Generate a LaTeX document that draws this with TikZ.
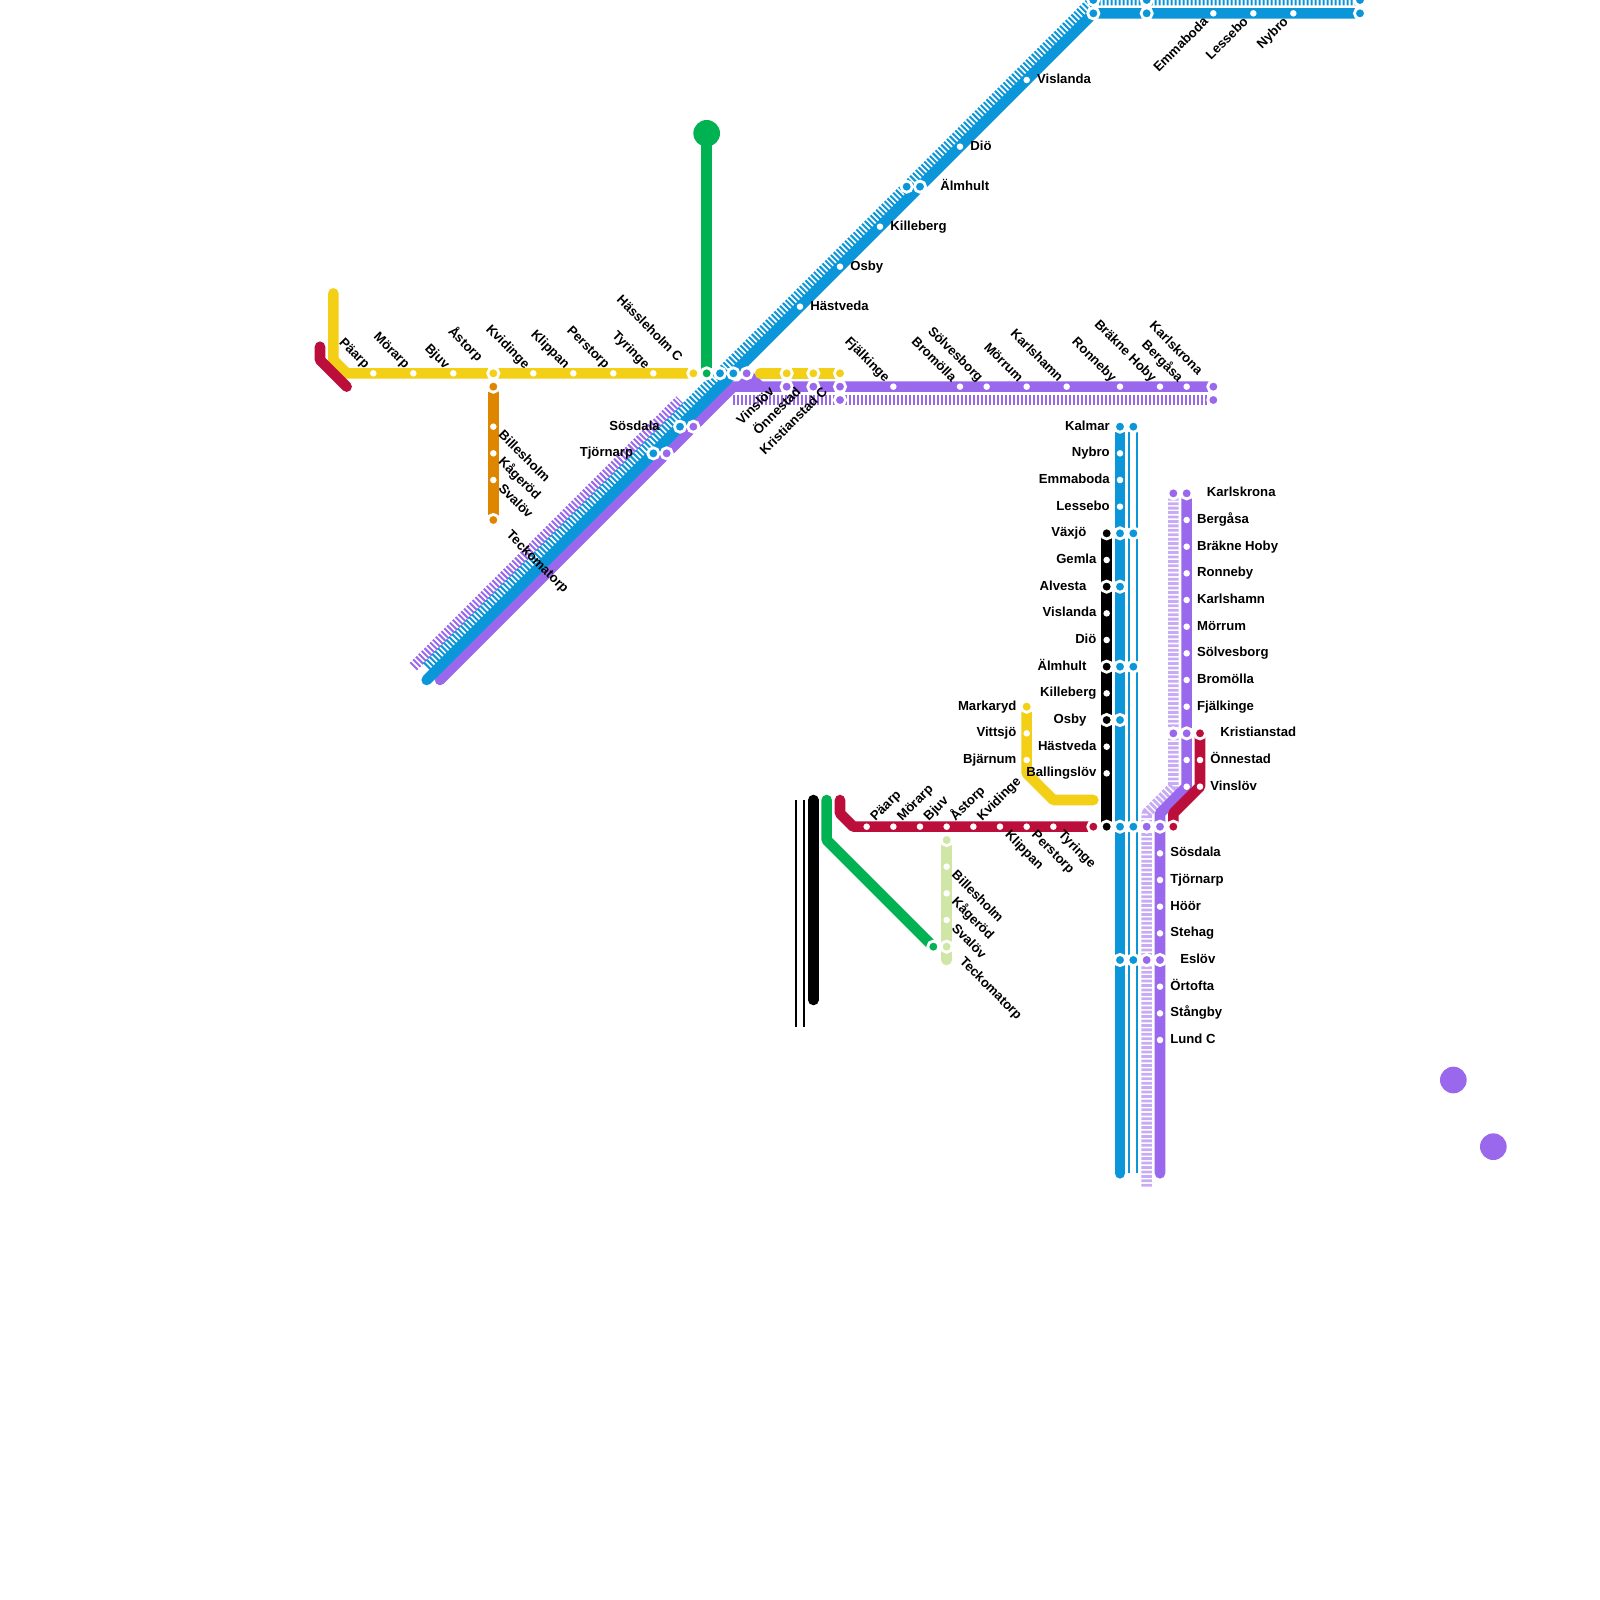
\documentclass[tikz,border=0pt]{standalone}
\usepackage{fontspec}
\setmainfont{Liberation Sans}
\usetikzlibrary{backgrounds}
\definecolor{cyel}{HTML}{F3CF16}
\definecolor{cred}{HTML}{BC0E3A}
\definecolor{cgrn}{HTML}{00B251}
\definecolor{cblu}{HTML}{0A96D9}
\definecolor{cpur}{HTML}{9A68EC}
\definecolor{cora}{HTML}{DF8600}
\definecolor{cpal}{HTML}{CFE6A7}
\tikzset{
  x=10pt,y=-10pt,
  metro/.style={line width=7.9pt,line cap=round,line join=round,draw=#1},
  hatch/.style={line width=7.9pt,line cap=butt,line join=round,draw=#1,dash pattern=on 1.5pt off 1.5pt},
  hatchpale/.style={line width=7.9pt,line cap=butt,line join=round,draw=#1,dash pattern=on 2.1pt off 1.23pt},
  twin/.style={line width=7.5pt,line cap=butt,draw=#1},
  twinin/.style={line width=4.5pt,line cap=butt,draw=white},
  plainst/.style={circle,fill=white,inner sep=0pt,minimum size=4.9pt},
  ringst/.style={circle,draw=white,line width=2.1pt,fill=#1,inner sep=0pt,minimum size=8.4pt},
  blob/.style={circle,fill=#1,inner sep=0pt,minimum size=20pt},
  lbl/.style={inner sep=0pt,text height=7pt,text depth=2pt,font=\fontsize{9.85}{10}\selectfont\bfseries},
}
\begin{document}
\begin{tikzpicture}
\useasboundingbox (0,0) rectangle (120,120);
% terminal blobs
\node[blob=cgrn] (gtop) at (53,10) {};
\node[blob=cpur] (pa) at (109,81) {};
\node[blob=cpur] (pb) at (112,86) {};
% bends and free ends
\foreach \n/\x/\y in {
 ya/25/22,yb/25/27,yc/26/28,ra/24/26,rb/24/27,rc/26/29,oe/37/39,
 bd/32/51,be/82/1,sa/32/50,sb/82/0,ppa/33/51,ppb/55/29,ppc/57/29,
 hpa/31/50,hpb/51/30,hha/55/30,
 ba/61/60,bb/61/75,tb1/60/60,tb2/60/77,
 ga/62/60,gb/62/63,
 rda/63/60,rdb/63/61,rdc/64/62,
 pgb/71/72,
 yya/77/58,yyb/79/60,yyc/82/60,
 yza/57/28,
 blb/84/88,tb3/85/88,
 hva/86/89,hvb/86/61,hvc/88/59,
 pua/87/88,pub/87/61,puc/89/59,
 rea/90/59,reb/88/61}
 {\coordinate (\n) at (\x,\y);}
% plain stations (white dots)
\foreach \x/\y in {
 28/28,31/28,34/28,40/28,43/28,46/28,49/28,
 37/32,37/34,37/36,
 77/6,72/11,66/17,63/20,60/23,
 91/1,94/1,97/1,
 67/29,72/29,74/29,77/29,80/29,84/29,87/29,89/29,
 84/34,84/36,84/38,
 83/42,83/46,83/48,83/52,83/56,83/58,
 77/55,77/57,
 65/62,67/62,69/62,71/62,73/62,75/62,77/62,79/62,
 71/65,71/67,71/69,
 89/39,89/41,89/43,89/45,89/47,89/49,89/51,89/53,89/57,89/59,
 90/57,90/59,
 87/64,87/66,87/68,87/70,87/74,87/76,87/78}
 {\node[plainst] (s\x-\y) at (\x,\y) {};}
% ring stations by colour
\foreach \x/\y in {37/28,52/28,59/28,61/28,63/28,77/53}
 {\node[ringst=cyel] (s\x-\y) at (\x,\y) {};}
\foreach \x/\y in {37/29,37/39}
 {\node[ringst=cora] (s\x-\y) at (\x,\y) {};}
\foreach \x/\y in {53/28,70/71}
 {\node[ringst=cgrn] (s\x-\y) at (\x,\y) {};}
\foreach \x/\y in {54/28,55/28,51/32,49/34,68/14,69/14,82/1,86/1,102/1,82/0,86/0,102/0,
 84/32,85/32,84/40,85/40,84/44,84/50,85/50,84/54,84/62,85/62,84/72,85/72}
 {\node[ringst=cblu] (s\x-\y) at (\x,\y) {};}
\foreach \x/\y in {56/28,52/32,50/34,59/29,61/29,63/29,91/29,63/30,91/30,
 88/37,89/37,88/55,89/55,86/62,87/62,86/72,87/72}
 {\node[ringst=cpur] (s\x-\y) at (\x,\y) {};}
\foreach \x/\y in {82/62,90/55,88/62}
 {\node[ringst=cred] (s\x-\y) at (\x,\y) {};}
\foreach \x/\y in {83/40,83/44,83/50,83/54,83/62}
 {\node[ringst=black] (s\x-\y) at (\x,\y) {};}
\foreach \x/\y in {71/63,71/71}
 {\node[ringst=cpal] (s\x-\y) at (\x,\y) {};}
% lines
\begin{scope}[on background layer]
 \draw[metro=cyel] (ya) -- (yb) -- (yc) -- (s52-28.center);
 \draw[metro=cred] (ra) -- (rb) -- (rc);
 \draw[metro=cora] (s37-29.center) -- (oe);
 \draw[metro=cgrn] (gtop.center) -- (s53-28.center);
 \draw[hatch=cpur] (hpa) -- (hpb);
 \draw[hatch=cblu] (sa) -- (sb) -- (s102-0.center);
 \draw[metro=cpur] (ppa) -- (ppb) -- (ppc) -- (s91-29.center);
 \fill[cpur] (s56-28.center) -- (ppc) -- (ppb) -- cycle;
 \draw[line width=7.9pt,line cap=butt,draw=cpur] (s56-28.center) -- (ppc);
 \draw[metro=cblu] (bd) -- (be) -- (s102-1.center);
 \draw[hatch=cpur] (hha) -- (s91-30.center);
 \draw[metro=cyel] (yza) -- (s63-28.center);
 \draw[metro=black] (ba) -- (bb);
 \draw[twin=black] (tb1) -- (tb2);
 \draw[twinin] (tb1) -- (tb2);
 \draw[metro=cgrn] (ga) -- (gb) -- (s70-71.center);
 \draw[metro=cred] (rda) -- (rdb) -- (rdc) -- (s82-62.center);
 \draw[metro=cpal] (s71-63.center) -- (pgb);
 \draw[metro=cyel] (s77-53.center) -- (yya) -- (yyb) -- (yyc);
 \draw[metro=black] (s83-40.center) -- (s83-62.center);
 \draw[metro=cblu] (s84-32.center) -- (blb);
 \draw[twin=cblu] (s85-32.center) -- (tb3);
 \draw[twinin] (s85-32.center) -- (tb3);
 \draw[hatchpale=cpur!55!white] (hva) -- (hvb) -- (hvc) -- (s88-37.center);
 \draw[metro=cpur] (pua) -- (pub) -- (puc) -- (s89-37.center);
 \draw[metro=cred] (s90-55.center) -- (rea) -- (reb) -- (s88-62.center);
\end{scope}
% labels: rotated -45, ending at the station
\foreach \x/\y/\t in {28/28/Päarp,31/28/Mörarp,34/28/Bjuv,40/28/Kvidinge,43/28/Klippan,46/28/Perstorp,49/28/Tyringe,
 67/29/Fjälkinge,72/29/Bromölla,74/29/Sölvesborg,77/29/Mörrum,80/29/Karlshamn,84/29/Ronneby,87/29/Bräkne Hoby,89/29/Bergåsa}
 {\node[lbl,rotate=-45,anchor=east] (ua\x-\y) at ([xshift=-4.7pt,yshift=4.7pt]\x,\y) {\t};}
\node[lbl,rotate=-45,anchor=east] (ub1) at ([xshift=-10pt,yshift=10pt]37,28) {Åstorp};
\node[lbl,rotate=-45,anchor=east] (ub2) at ([xshift=-10pt,yshift=10pt]91,29) {Karlskrona};
\node[lbl,rotate=-45,anchor=east] (ub3) at ([xshift=-10pt,yshift=10pt]52,28) {Hässleholm C};
% rotated -45, starting at the station
\foreach \x/\y/\t in {37/32/Billesholm,37/34/Kågeröd,37/36/Svalöv,75/62/Klippan,77/62/Perstorp,79/62/Tyringe,71/65/Billesholm,71/67/Kågeröd,71/69/Svalöv}
 {\node[lbl,rotate=-45,anchor=west] (uc\x-\y) at ([xshift=5pt,yshift=-5pt]\x,\y) {\t};}
\node[lbl,rotate=-45,anchor=west] (ud1) at ([xshift=11pt,yshift=-10pt]37,39) {Teckomatorp};
\node[lbl,rotate=-45,anchor=west] (ud2) at ([xshift=11pt,yshift=-10pt]71,71) {Teckomatorp};
% rotated +45, ending at the station
\foreach \x/\y/\t in {59/29/Vinslöv,61/29/Önnestad,63/29/Kristianstad C}
 {\node[lbl,rotate=45,anchor=east] (ue\x-\y) at ([xshift=-10.5pt,yshift=-2.5pt]\x,\y) {\t};}
\foreach \x/\y/\t in {91/1/Emmaboda,94/1/Lessebo,97/1/Nybro}
 {\node[lbl,rotate=45,anchor=east] (uf\x-\y) at ([xshift=-5pt,yshift=-5pt]\x,\y) {\t};}
% rotated +45, starting at the station
\foreach \x/\y/\t in {65/62/Päarp,67/62/Mörarp,69/62/Bjuv,71/62/Åstorp,73/62/Kvidinge}
 {\node[lbl,rotate=45,anchor=west] (ug\x-\y) at ([xshift=4.8pt,yshift=5.5pt]\x,\y) {\t};}
% horizontal, to the left
\foreach \x/\y/\t in {84/32/Kalmar,84/34/Nybro,84/36/Emmaboda,84/38/Lessebo,83/42/Gemla,83/46/Vislanda,83/48/Diö,83/52/Killeberg,83/56/Hästveda,83/58/Ballingslöv,77/53/Markaryd,77/55/Vittsjö,77/57/Bjärnum}
 {\node[lbl,anchor=east] (uh\x-\y) at ([xshift=-7.5pt]\x,\y) {\t};}
\foreach \x/\y/\t in {83/40/Växjö,83/44/Alvesta,83/50/Älmhult,83/54/Osby,51/32/Sösdala,49/34/Tjörnarp}
 {\node[lbl,anchor=east] (ui\x-\y) at ([xshift=-15pt]\x,\y) {\t};}
% horizontal, to the right
\foreach \x/\y/\t in {77/6/Vislanda,72/11/Diö,66/17/Killeberg,63/20/Osby,60/23/Hästveda,
 89/39/Bergåsa,89/41/Bräkne Hoby,89/43/Ronneby,89/45/Karlshamn,89/47/Mörrum,89/49/Sölvesborg,89/51/Bromölla,89/53/Fjälkinge,
 90/57/Önnestad,90/59/Vinslöv,
 87/64/Sösdala,87/66/Tjörnarp,87/68/Höör,87/70/Stehag,87/74/Örtofta,87/76/Stångby,87/78/Lund C}
 {\node[lbl,anchor=west] (uj\x-\y) at ([xshift=7.6pt]\x,\y) {\t};}
\foreach \x/\y/\t in {69/14/Älmhult,89/37/Karlskrona,90/55/Kristianstad,87/72/Eslöv}
 {\node[lbl,anchor=west] (uk\x-\y) at ([xshift=15pt]\x,\y) {\t};}
\end{tikzpicture}
\end{document}
